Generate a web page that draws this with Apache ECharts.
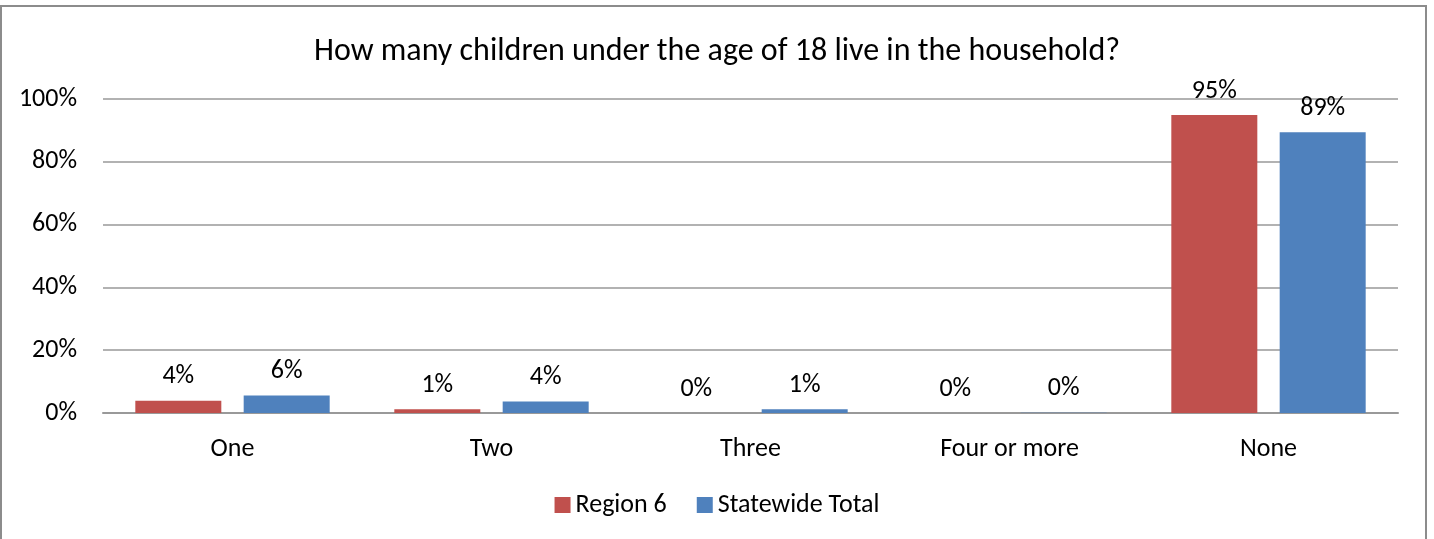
<!DOCTYPE html>
<html>
<head>
<meta charset="utf-8">
<script src="https://cdn.jsdelivr.net/npm/echarts@6/dist/echarts.min.js"></script>
<style>
  html, body { margin: 0; padding: 0; background: #fff; overflow: hidden; }
  #frame {
    position: absolute; left: 0; top: 5px; width: 1427px; height: 545px;
    border: 2px solid #8c8c8c; box-sizing: border-box;
  }
  #chart { position: absolute; left: 0; top: 0; width: 1434px; height: 539px; }
</style>
</head>
<body>
<div id="frame"></div>
<div id="chart"></div>
<script>
const titleText = 'How many children under the age of 18 live in the household?'
const categories = ['One', 'Two', 'Three', 'Four or more', 'None']
const seriesNames = ['Region 6', 'Statewide Total']
const region6 = [3.9, 1.2, 0, 0, 94.9]
const statewide = [5.6, 3.7, 1.2, 0.1, 89.4]
const yTicks = [0, 20, 40, 60, 80, 100]

const font = 'Calibri, Carlito, "Open Sans", sans-serif'
const chart = echarts.init(document.getElementById('chart'))

function barSeries (name, data, color) {
  return {
    name: name,
    type: 'bar',
    data: data,
    barWidth: 86,
    barGap: '26%',
    itemStyle: { color: color },
    label: {
      show: true,
      position: 'top',
      distance: 11,
      color: '#000',
      fontSize: 26,
      fontFamily: font,
      formatter: function (p) { return Math.round(p.value) + '%' }
    }
  }
}

chart.setOption({
  animation: false,
  title: {
    text: titleText,
    left: 'center',
    top: 31,
    textStyle: { fontSize: 32, fontWeight: 'normal', color: '#000', fontFamily: font }
  },
  legend: {
    data: seriesNames,
    bottom: 16,
    left: 'center',
    itemWidth: 16,
    itemHeight: 16,
    itemGap: 30,
    icon: 'rect',
    textStyle: { fontSize: 26, color: '#000', fontFamily: font }
  },
  grid: { left: 103, right: 36, top: 99, bottom: 126 },
  xAxis: {
    type: 'category',
    data: categories,
    axisLine: { lineStyle: { color: '#999', width: 2 } },
    axisTick: { show: false },
    axisLabel: { fontSize: 26, color: '#000', fontFamily: font, margin: 23 }
  },
  yAxis: {
    type: 'value',
    min: yTicks[0],
    max: yTicks[yTicks.length - 1],
    interval: yTicks[1] - yTicks[0],
    axisLine: { show: false },
    axisTick: { show: false },
    splitLine: { lineStyle: { color: '#999', width: 1.5 } },
    axisLabel: {
      fontSize: 26, color: '#000', fontFamily: font, margin: 26,
      formatter: function (v) { return v + '%' }
    }
  },
  series: [
    barSeries(seriesNames[0], region6, '#C0504D'),
    barSeries(seriesNames[1], statewide, '#4F81BD')
  ]
})
</script>
</body>
</html>
